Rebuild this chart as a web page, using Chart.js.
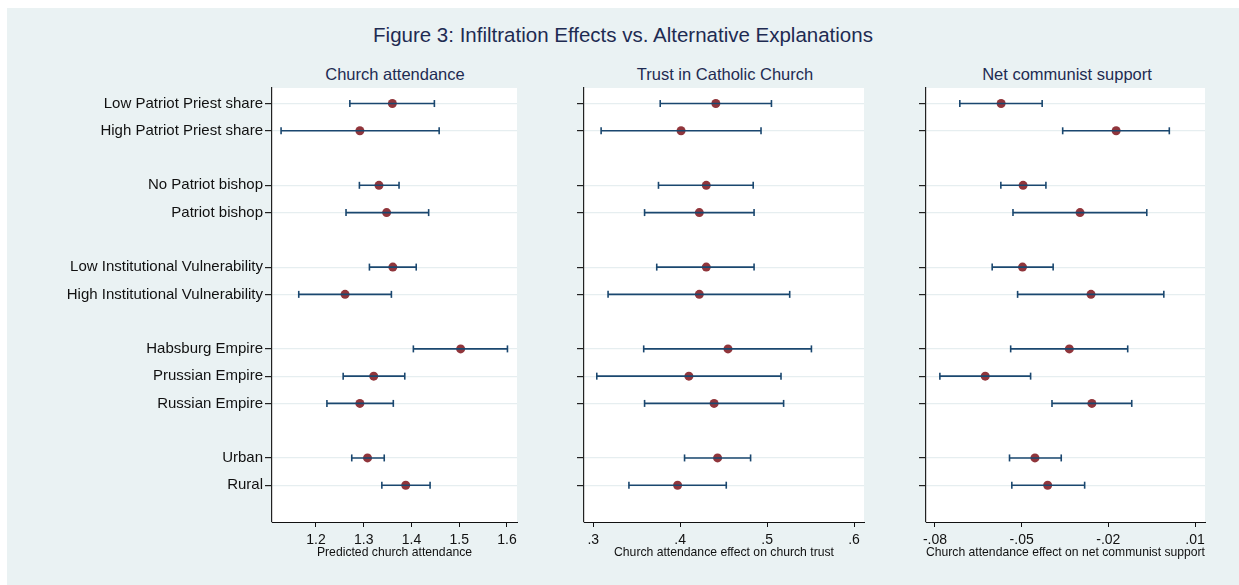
<!DOCTYPE html>
<html lang="en">
<head>
  <meta charset="UTF-8">
  <title>Figure 3: Infiltration Effects vs. Alternative Explanations</title>
  <script src="https://cdn.jsdelivr.net/npm/chart.js"></script>
  <style>
    body {
      margin: 0;
      background: #fff;
      font-family: "Liberation Sans", Arial, sans-serif;
    }

    #frame {
      position: absolute;
      left: 7px;
      top: 8px;
      width: 1232px;
      height: 577px;
      background: #eaf2f3;
    }

    .title {
      position: absolute;
      color: #1e2b52;
      white-space: nowrap;
      transform: translateX(-50%);
    }

    #main { left: 623px; top: 23px; font-size: 20.5px; }
    .panel { top: 65px; font-size: 16.5px; }

    canvas { position: absolute; }
  </style>
</head>
<body>
  <div id="frame"></div>
  <div id="main" class="title">Figure 3: Infiltration Effects vs. Alternative Explanations</div>
  <div class="title panel" style="left:395px">Church attendance</div>
  <div class="title panel" style="left:725px">Trust in Catholic Church</div>
  <div class="title panel" style="left:1067px">Net communist support</div>

  <canvas id="c1" style="left:0px;top:77px" width="530" height="493"></canvas>
  <canvas id="c2" style="left:540px;top:77px" width="340" height="493"></canvas>
  <canvas id="c3" style="left:880px;top:77px" width="345" height="493"></canvas>

  <script>
    // categories and their row positions (blank rows separate the groups)
    const categories = [
      'Low Patriot Priest share', 'High Patriot Priest share',
      'No Patriot bishop', 'Patriot bishop',
      'Low Institutional Vulnerability', 'High Institutional Vulnerability',
      'Habsburg Empire', 'Prussian Empire', 'Russian Empire',
      'Urban', 'Rural'
    ];
    const rows = [0, 1, 3, 4, 6, 7, 9, 10, 11, 13, 14];

    // panel 1: predicted church attendance
    const attendEst = [1.360, 1.292, 1.332, 1.348, 1.361, 1.261, 1.503, 1.321, 1.292, 1.308, 1.388];
    const attendLo  = [1.271, 1.127, 1.291, 1.263, 1.312, 1.164, 1.404, 1.257, 1.223, 1.275, 1.338];
    const attendHi  = [1.448, 1.458, 1.374, 1.436, 1.410, 1.358, 1.601, 1.386, 1.362, 1.343, 1.439];
    const attendTicks = [1.2, 1.3, 1.4, 1.5, 1.6];

    // panel 2: church attendance effect on church trust
    const trustEst = [0.441, 0.401, 0.430, 0.422, 0.430, 0.422, 0.455, 0.410, 0.439, 0.443, 0.397];
    const trustLo  = [0.377, 0.309, 0.375, 0.359, 0.373, 0.317, 0.358, 0.304, 0.359, 0.405, 0.341];
    const trustHi  = [0.505, 0.493, 0.484, 0.485, 0.485, 0.526, 0.551, 0.516, 0.519, 0.481, 0.453];
    const trustTicks = [0.3, 0.4, 0.5, 0.6];

    // panel 3: church attendance effect on net communist support
    const commEst = [-0.0571, -0.0173, -0.0495, -0.0298, -0.0497, -0.0260, -0.0335, -0.0626, -0.0257, -0.0454, -0.0410];
    const commLo  = [-0.0714, -0.0358, -0.0572, -0.0530, -0.0602, -0.0514, -0.0538, -0.0783, -0.0395, -0.0542, -0.0534];
    const commHi  = [-0.0429,  0.0011, -0.0416, -0.0067, -0.0391, -0.0008, -0.0133, -0.0469, -0.0119, -0.0363, -0.0282];
    const commTicks = [-0.08, -0.05, -0.02, 0.01];

    const navy = '#1a476f';
    const cranberry = '#90353b';
    const font = "'Liberation Sans', Arial, sans-serif";

    // white plot region
    const plotBackground = {
      id: 'plotBackground',
      beforeDraw(chart) {
        const { ctx, chartArea: a } = chart;
        ctx.save();
        ctx.fillStyle = '#fff';
        ctx.fillRect(a.left, a.top, a.right - a.left, a.bottom - a.top);
        ctx.restore();
      }
    };

    function fmt(v) {
      let s = String(Math.round(v * 100) / 100);
      return s.replace(/^(-?)0\./, '$1.');
    }

    function makePanel(id, est, lo, hi, ticks, xmin, xmax, xTitle, yWidth, rightPad, showLabels) {
      const datasets = [];
      rows.forEach((r, i) => {
        datasets.push({
          type: 'line',
          data: [{ x: lo[i], y: r }, { x: hi[i], y: r }],
          borderColor: navy,
          borderWidth: 1.6,
          pointStyle: 'line',
          rotation: 90,
          pointRadius: 3.5,
          pointBorderColor: navy,
          pointBorderWidth: 1.6,
          pointHoverRadius: 3.5,
        });
      });
      datasets.push({
        type: 'scatter',
        data: rows.map((r, i) => ({ x: est[i], y: r })),
        backgroundColor: cranberry,
        borderColor: cranberry,
        borderWidth: 0,
        pointRadius: 4.5,
        pointHoverRadius: 4.5,
      });

      return new Chart(document.getElementById(id), {
        type: 'scatter',
        data: { datasets: datasets },
        plugins: [plotBackground],
        options: {
          responsive: false,
          animation: false,
          layout: { padding: { top: 0, right: rightPad, left: 0, bottom: 0 } },
          plugins: { legend: { display: false }, tooltip: { enabled: false } },
          scales: {
            x: {
              type: 'linear',
              min: xmin,
              max: xmax,
              afterBuildTicks: (s) => { s.ticks = ticks.map(v => ({ value: v })); },
              afterFit: (s) => { s.height = 48; },
              ticks: {
                color: '#111',
                font: { family: font, size: 14 },
                padding: 5,
                maxRotation: 0,
                autoSkip: false,
                callback: (v) => fmt(v),
              },
              grid: { drawOnChartArea: false, drawTicks: true, tickLength: 5, tickColor: '#111' },
              border: { display: true, color: '#111', width: 1 },
              title: {
                display: true,
                text: xTitle,
                color: '#111',
                font: { family: font, size: 12.2 },
                padding: { top: 0, bottom: 10 },
              },
            },
            y: {
              type: 'linear',
              reverse: true,
              min: -0.57,
              max: 15.35,
              afterBuildTicks: (s) => { s.ticks = rows.map(v => ({ value: v })); },
              afterFit: (s) => { s.width = yWidth; },
              ticks: {
                color: '#111',
                font: { family: font, size: 15 },
                padding: 2,
                autoSkip: false,
                callback: (v) => showLabels ? categories[rows.indexOf(v)] : '',
              },
              grid: { color: '#e6eef0', lineWidth: 1.2, tickLength: 7, tickColor: '#222' },
              border: { display: true, color: '#222', width: 1.2 },
            },
          },
        },
      });
    }

    makePanel('c1', attendEst, attendLo, attendHi, attendTicks, 1.108, 1.621,
      'Predicted church attendance', 272, 13, true);
    makePanel('c2', trustEst, trustLo, trustHi, trustTicks, 0.2893, 0.6115,
      'Church attendance effect on church trust', 44, 16, false);
    makePanel('c3', commEst, commLo, commHi, commTicks, -0.0831, 0.01345,
      'Church attendance effect on net communist support', 46, 20, false);
  </script>
</body>
</html>
